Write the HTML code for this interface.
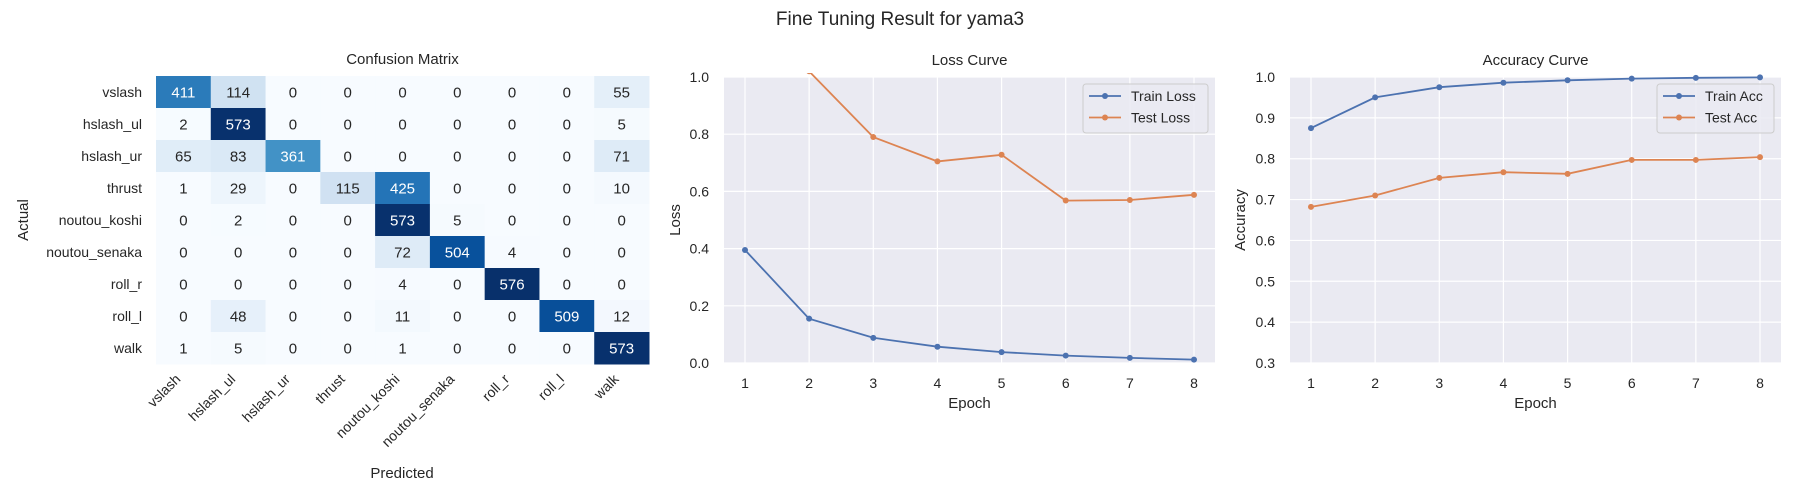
<!DOCTYPE html>
<html><head><meta charset="utf-8">
<style>
html,body{margin:0;padding:0;background:#fff;}
svg{display:block;font-family:"Liberation Sans",Arial,sans-serif;}
</style></head>
<body>
<svg id="fig" width="1800" height="500" viewBox="0 0 1800 500" xmlns="http://www.w3.org/2000/svg">
<text x="900" y="25" text-anchor="middle" font-size="19" fill="#262626">Fine Tuning Result for yama3</text>
<g id="cm"></g>
<g id="loss"></g>
<g id="acc"></g>
</svg>
<script>
const classes = ["vslash","hslash_ul","hslash_ur","thrust","noutou_koshi","noutou_senaka","roll_r","roll_l","walk"];
const matrix = [
[411,114,0,0,0,0,0,0,55],
[2,573,0,0,0,0,0,0,5],
[65,83,361,0,0,0,0,0,71],
[1,29,0,115,425,0,0,0,10],
[0,2,0,0,573,5,0,0,0],
[0,0,0,0,72,504,4,0,0],
[0,0,0,0,4,0,576,0,0],
[0,48,0,0,11,0,0,509,12],
[1,5,0,0,1,0,0,0,573]
];
const epochs = [1,2,3,4,5,6,7,8];
const trainLoss = [0.395,0.155,0.088,0.057,0.038,0.026,0.018,0.012];
const testLoss = [1.5,1.02,0.79,0.705,0.728,0.568,0.57,0.588];
const trainAcc = [0.875,0.95,0.975,0.986,0.992,0.996,0.998,0.999];
const testAcc = [0.682,0.71,0.753,0.767,0.763,0.797,0.797,0.804];
const lossTicks = [0.0,0.2,0.4,0.6,0.8,1.0];
const accTicks = [0.3,0.4,0.5,0.6,0.7,0.8,0.9,1.0];

const NS="http://www.w3.org/2000/svg";
function mk(parent,tag,attrs,text){const e=document.createElementNS(NS,tag);for(const k in attrs)e.setAttribute(k,attrs[k]);if(text!==undefined)e.textContent=text;parent.appendChild(e);return e;}

// Blues colormap
const blues=["#f7fbff","#deebf7","#c6dbef","#9ecae1","#6baed6","#4292c6","#2171b5","#08519c","#08306b"];
function hex(h){return [parseInt(h.substr(1,2),16),parseInt(h.substr(3,2),16),parseInt(h.substr(5,2),16)];}
function bluesAt(t){t=Math.max(0,Math.min(1,t));const p=t*8;const i=Math.min(7,Math.floor(p));const f=p-i;const a=hex(blues[i]),b=hex(blues[i+1]);return "rgb("+a.map((v,k)=>Math.round(v+(b[k]-v)*f)).join(",")+")";}

// Confusion matrix
(function(){
const g=document.getElementById('cm');
const L=156,T=76,W=493,H=288,n=classes.length,cw=W/n,ch=H/n;
let mx=0;matrix.forEach(r=>r.forEach(v=>{if(v>mx)mx=v;}));
const t=mk(g,'text',{x:L+W/2,y:T-12,'text-anchor':'middle','font-size':15,fill:'#262626'},'Confusion Matrix');


matrix.forEach((row,i)=>{row.forEach((v,j)=>{
 const r=mk(g,'rect',{x:L+j*cw,y:T+i*ch,width:cw+0.5,height:ch+0.5,fill:bluesAt(v/mx)});
 
 
 const tx=mk(g,'text',{x:L+j*cw+cw/2,y:T+i*ch+ch/2+5.5,'text-anchor':'middle','font-size':15,fill:(v/mx>0.55?'#ffffff':'#262626')},String(v));
 
 
});});
classes.forEach((c,i)=>{
 const yl=mk(g,'text',{x:L-14,y:T+i*ch+ch/2+5,'text-anchor':'end','font-size':14,fill:'#262626'},c);
 
 
 const cx=L+i*cw+cw/2-2,cy=T+H+16;
 const xl=mk(g,'text',{x:cx,y:cy,'text-anchor':'end','font-size':14,fill:'#262626',transform:'rotate(-45 '+cx+' '+cy+')'},c);
 
 
});
const ya=mk(g,'text',{x:28,y:220,'text-anchor':'middle','font-size':15,fill:'#262626',transform:'rotate(-90 28 220)'},'Actual');


const xa=mk(g,'text',{x:402,y:478,'text-anchor':'middle','font-size':15,fill:'#262626'},'Predicted');


})();

function lineChart(id,cfg){
const g=document.getElementById(id);
const {L,R,T,B,ymin,ymax,ticks,title,ylabel,series,legend}=cfg;
const x0=L+21,x1=R-21;
const xs=e=>x0+(e-1)*(x1-x0)/(epochs.length-1);
const ys=v=>B-(v-ymin)/(ymax-ymin)*(B-T);
const bg=mk(g,'rect',{x:L,y:T,width:R-L,height:B-T,fill:'#eaeaf2'});


ticks.forEach(v=>{
 const gl=mk(g,'line',{x1:L,x2:R,y1:ys(v),y2:ys(v),stroke:'#fff','stroke-width':1.2});
 
 
 const tl=mk(g,'text',{x:L-15,y:ys(v)+5,'text-anchor':'end','font-size':14,fill:'#262626'},v.toFixed(1));
 
 
});
epochs.forEach(e=>{
 const gl=mk(g,'line',{x1:xs(e),x2:xs(e),y1:T,y2:B,stroke:'#fff','stroke-width':1.2});
 
 
 const tl=mk(g,'text',{x:xs(e),y:B+25,'text-anchor':'middle','font-size':14,fill:'#262626'},String(e));
 
 
});
const cid='clip-'+id;
const defs=mk(g,'defs',{});const cp=mk(defs,'clipPath',{id:cid});mk(cp,'rect',{x:L,y:T-4,width:R-L,height:B-T+8});
const sg=mk(g,'g',{'clip-path':'url(#'+cid+')'});
series.forEach(s=>{
 const pts=s.data.map((v,i)=>xs(epochs[i]).toFixed(1)+','+ys(v).toFixed(1)).join(' ');
 const pl=mk(sg,'polyline',{points:pts,fill:'none',stroke:s.color,'stroke-width':1.8});
 
 
 s.data.forEach((v,i)=>{
  const c=mk(sg,'circle',{cx:xs(epochs[i]),cy:ys(v),r:3,fill:s.color});
  
  
 });
});
const tt=mk(g,'text',{x:(L+R)/2,y:T-12,'text-anchor':'middle','font-size':15,fill:'#262626'},title);


const xt=mk(g,'text',{x:(L+R)/2,y:B+45,'text-anchor':'middle','font-size':15,fill:'#262626'},'Epoch');


const yx=cfg.ylx,yy=(T+B)/2;
const yt=mk(g,'text',{x:yx,y:yy,'text-anchor':'middle','font-size':15,fill:'#262626',transform:'rotate(-90 '+yx+' '+yy+')'},ylabel);


const lg=mk(g,'g',{});


mk(lg,'rect',{x:legend.x,y:84,width:legend.w,height:49,rx:3,fill:'#eaeaf2',stroke:'#cccccc','fill-opacity':0.85});
series.forEach((s,i)=>{
 const yy2=96+i*21.5;
 const le=mk(lg,'g',{});
 
 
 mk(le,'line',{x1:legend.x+6,x2:legend.x+38,y1:yy2,y2:yy2,stroke:s.color,'stroke-width':1.8});
 mk(le,'circle',{cx:legend.x+22,cy:yy2,r:3,fill:s.color});
 mk(le,'text',{x:legend.x+48,y:yy2+5,'font-size':14,fill:'#262626'},s.label);
});
}
lineChart('loss',{L:724,R:1215,T:77,B:363,ymin:0,ymax:1,ticks:lossTicks,title:'Loss Curve',ylabel:'Loss',ylx:680,
 series:[{name:'train-loss',label:'Train Loss',color:'#4c72b0',data:trainLoss},{name:'test-loss',label:'Test Loss',color:'#dd8452',data:testLoss}],
 legend:{x:1083,w:125}});
lineChart('acc',{L:1290,R:1781,T:77,B:363,ymin:0.3,ymax:1,ticks:accTicks,title:'Accuracy Curve',ylabel:'Accuracy',ylx:1245,
 series:[{name:'train-acc',label:'Train Acc',color:'#4c72b0',data:trainAcc},{name:'test-acc',label:'Test Acc',color:'#dd8452',data:testAcc}],
 legend:{x:1657,w:117}});
</script>
</body></html>
